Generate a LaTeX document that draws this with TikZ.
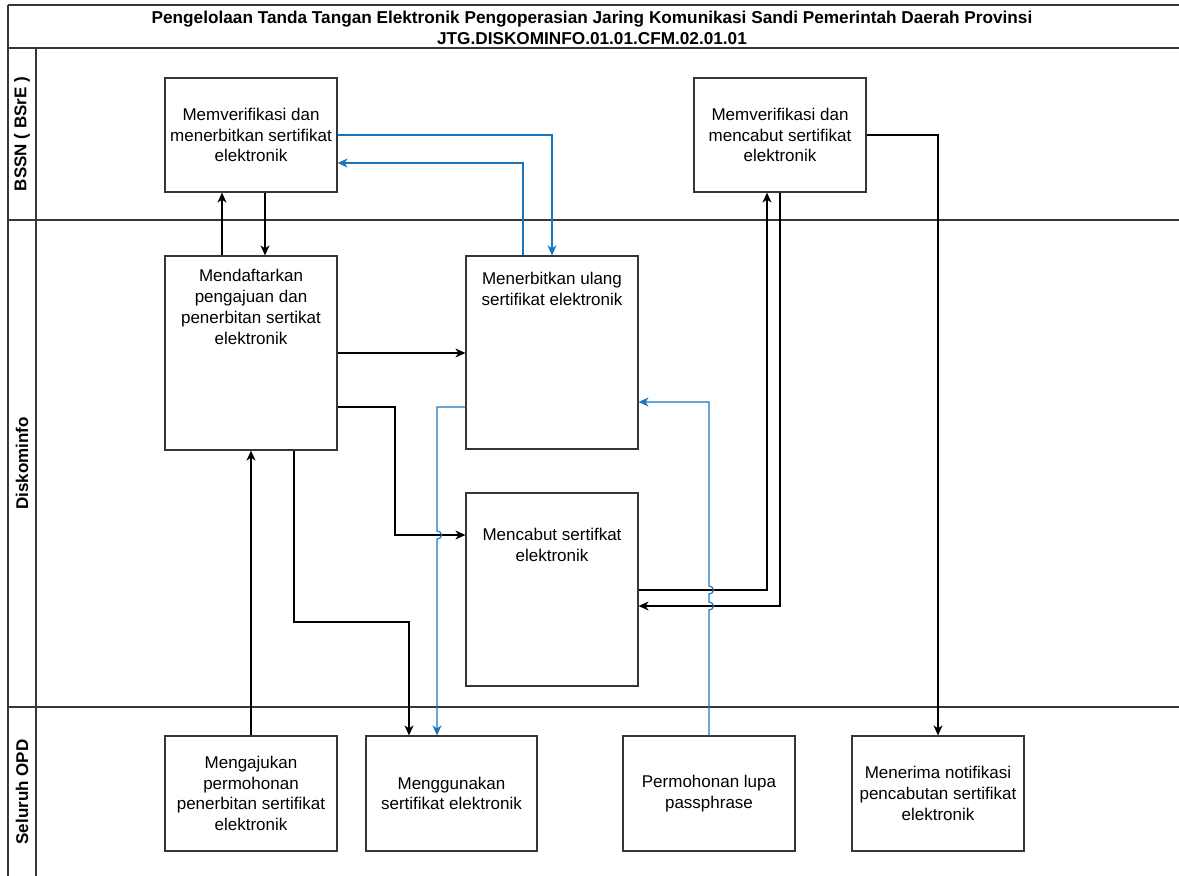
\documentclass[tikz,border=0pt]{standalone}
\usepackage{fontspec}
\setmainfont{Liberation Sans}
\usetikzlibrary{arrows.meta}
\definecolor{flowblue}{RGB}{25,118,190}
\definecolor{linegray}{RGB}{55,55,55}
\begin{document}
\begin{tikzpicture}[x=1pt,y=-1pt,
  lane/.style={draw=linegray, line width=1.3pt},
  box/.style={draw=linegray, line width=1.2pt, inner sep=2pt, align=center,
    minimum width=172pt, font=\fontsize{17}{20.7}\selectfont},
  boxtext/.style={inner sep=0pt, align=center, font=\fontsize{17}{21}\selectfont},
  lanelabel/.style={rotate=90, font=\bfseries\fontsize{17}{20}\selectfont},
  arr/.style={draw=black, line width=1.2pt, -{Stealth[length=10pt,width=9pt,inset=3pt]}},
  barr/.style={arr, draw=flowblue, -{Stealth[length=10pt,width=9pt,inset=3pt,fill=flowblue]}}
]
\useasboundingbox (0,0) rectangle (1179,876);
% frame and lanes
\draw[lane] (8,5) -- (1179,5);
\draw[lane] (8,48) -- (1179,48);
\draw[lane] (8,220) -- (1179,220);
\draw[lane] (8,707) -- (1179,707);
\draw[lane] (8,5) -- (8,876);
\draw[lane] (36,48) -- (36,876);
\node[font=\bfseries\fontsize{17.2}{21}\selectfont, align=center] (title) at (592,27.5)
  {Pengelolaan Tanda Tangan Elektronik Pengoperasian Jaring Komunikasi Sandi Pemerintah Daerah Provinsi\\JTG.DISKOMINFO.01.01.CFM.02.01.01};
\node[lanelabel] (l1) at (22,134) {BSSN ( BSrE )};
\node[lanelabel] (l2) at (22,463.5) {Diskominfo};
\node[lanelabel] (l3) at (22,792) {Seluruh OPD};
% boxes
\node[box, minimum height=114pt] (b1) at (251,135) {Memverifikasi dan\\menerbitkan sertifikat\\elektronik};
\node[box, minimum height=114pt] (b2) at (780,135) {Memverifikasi dan\\mencabut sertifikat\\elektronik};
\node[box, minimum height=194pt] (d1) at (251,353) {};
\node[box, minimum height=193pt] (d2) at (552,352.5) {};
\node[box, minimum height=193pt] (d3) at (552,589.5) {};
\node[boxtext, anchor=north] (d1t) at ([yshift=-14pt]d1.north) {Mendaftarkan\\pengajuan dan\\penerbitan sertikat\\elektronik};
\node[boxtext, anchor=north] (d2t) at ([yshift=-16.5pt]d2.north) {Menerbitkan ulang\\sertifikat elektronik};
\node[boxtext, anchor=north] (d3t) at ([yshift=-35.5pt]d3.north) {Mencabut sertifkat\\elektronik};
\node[box, minimum height=115pt] (o1) at (251,793.5) {Mengajukan\\permohonan\\penerbitan sertifikat\\elektronik};
\node[box, minimum height=115pt, minimum width=171pt] (o2) at (451.5,793.5) {Menggunakan\\sertifikat elektronik};
\node[box, minimum height=115pt] (o3) at (709,793.5) {Permohonan lupa\\passphrase};
\node[box, minimum height=115pt] (o4) at (938,793.5) {Menerima notifikasi\\pencabutan sertifikat\\elektronik};
% connectors
\draw[arr] ([xshift=-29pt]d1.north) -- ([xshift=-29pt]b1.south);
\draw[arr] ([xshift=14pt]b1.south) -- ([xshift=14pt]d1.north);
\draw[barr] (b1.east) -| (d2.north);
\draw[barr] ([xshift=-29pt]d2.north) |- ([yshift=-28pt]b1.east);
\draw[arr] (d1.east) -- (d1.east -| d2.west);
\draw[arr] ([yshift=-54pt]d1.east) -- (395,407) -- (395,535) -- (d3.west |- 0,535);
\draw[barr] ([yshift=-54.5pt]d2.west) -- (437,407) -- (437,531)
  .. controls (443,531) and (443,539) .. (437,539) -- ([xshift=-14.5pt]o2.north);
\draw[arr] ([xshift=43pt]d1.south) -- (294,622) -- (409,622) -- ([xshift=-42.5pt]o2.north);
\draw[arr] (o1.north) -- (d1.south);
\draw[arr] ([yshift=-0.5pt]d3.east) -| ([xshift=-13pt]b2.south);
\draw[arr] (b2.south) |- ([yshift=-16.5pt]d3.east);
\draw[barr] (o3.north) -- (709,610) .. controls (715,610) and (715,602) .. (709,602)
  -- (709,594) .. controls (715,594) and (715,586) .. (709,586)
  -- (709,402) -- ([yshift=-49.5pt]d2.east);
\draw[arr] (b2.east) -| (o4.north);
\end{tikzpicture}
\end{document}
